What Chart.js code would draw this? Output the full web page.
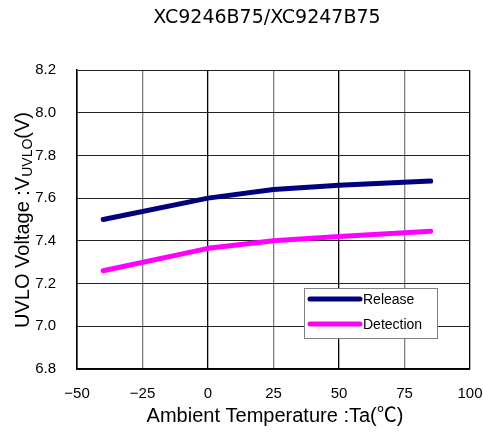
<!DOCTYPE html>
<html>
<head>
<meta charset="utf-8">
<script src="https://cdn.jsdelivr.net/npm/chart.js@4"></script>
<style>
  html, body { margin: 0; padding: 0; background: #fff; }
  #wrap { width: 483px; height: 432px; }
</style>
</head>
<body>
<div id="wrap"><canvas id="uvlo"></canvas></div>
<script>
// ----- data -----
const chartTitle = 'XC9246B75/XC9247B75';
const temps = [-40, 0, 25, 50, 85];
const releaseV = [7.50, 7.60, 7.64, 7.66, 7.68];
const detectionV = [7.26, 7.365, 7.40, 7.42, 7.445];
const seriesNames = ['Release', 'Detection'];
const seriesColors = ['#000080', '#ff00ff'];
const xTicks = [-50, -25, 0, 25, 50, 75, 100];
const yTicks = [6.8, 7.0, 7.2, 7.4, 7.6, 7.8, 8.0, 8.2];

const sansFont = "'Liberation Sans', Arial, 'Noto Sans CJK JP', sans-serif";
const wideFont = "'DejaVu Sans', 'Noto Sans CJK JP', sans-serif";

function toPoints(ys) {
    return temps.map((t, i) => ({ x: t, y: ys[i] }));
}

// draws the title, axis titles (with subscript) and the boxed legend
const decorations = {
    id: 'decorations',
    afterDraw(chart) {
        const ctx = chart.ctx;
        ctx.save();
        ctx.fillStyle = '#000';

        // title
        ctx.font = "19px " + wideFont;
        ctx.textAlign = 'center';
        ctx.textBaseline = 'middle';
        ctx.fillText(chartTitle, 267, 18);

        // x axis title
        ctx.font = "20px " + sansFont;
        ctx.fillText('Ambient Temperature :Ta(\u2103)', 275, 416);

        // y axis title, rotated, with subscript
        ctx.translate(23, 220);
        ctx.rotate(-Math.PI / 2);
        ctx.textAlign = 'left';
        ctx.textBaseline = 'middle';
        const big = "20px " + sansFont;
        const small = "14px " + sansFont;
        const parts = [
            { t: 'UVLO Voltage :V', f: big, dy: 0 },
            { t: 'UVLO', f: small, dy: 5 },
            { t: '(V)', f: big, dy: 0 }
        ];
        let total = 0;
        parts.forEach(p => { ctx.font = p.f; p.w = ctx.measureText(p.t).width; total += p.w; });
        let x = -total / 2;
        parts.forEach(p => {
            ctx.font = p.f;
            ctx.fillText(p.t, x, p.dy);
            x += p.w;
        });
        ctx.restore();

        // legend box
        ctx.save();
        const bx = 304, by = 288, bw = 133, bh = 50;
        ctx.fillStyle = '#fff';
        ctx.fillRect(bx, by, bw, bh);
        ctx.strokeStyle = '#808080';
        ctx.lineWidth = 1;
        ctx.strokeRect(bx + 0.5, by + 0.5, bw, bh);
        ctx.font = "14px " + sansFont;
        ctx.textBaseline = 'middle';
        ctx.textAlign = 'left';
        chart.data.datasets.forEach((ds, i) => {
            const ly = by + 11 + i * 25;
            ctx.strokeStyle = ds.borderColor;
            ctx.lineWidth = 5;
            ctx.lineCap = 'round';
            ctx.beginPath();
            ctx.moveTo(bx + 6, ly);
            ctx.lineTo(bx + 56, ly);
            ctx.stroke();
            ctx.fillStyle = '#000';
            ctx.fillText(ds.label, bx + 59, ly + 1);
        });
        ctx.restore();
    }
};

function initializeChart() {
    const el = document.getElementById('uvlo');
    new Chart(el, {
        type: 'line',
        data: {
            datasets: [
                {
                    label: seriesNames[0],
                    data: toPoints(releaseV),
                    borderColor: seriesColors[0],
                    borderWidth: 5,
                    borderCapStyle: 'round',
                    borderJoinStyle: 'round',
                    pointRadius: 0,
                    tension: 0,
                    fill: false
                },
                {
                    label: seriesNames[1],
                    data: toPoints(detectionV),
                    borderColor: seriesColors[1],
                    borderWidth: 5,
                    borderCapStyle: 'round',
                    borderJoinStyle: 'round',
                    pointRadius: 0,
                    tension: 0,
                    fill: false
                }
            ]
        },
        options: {
            responsive: true,
            maintainAspectRatio: false,
            animation: false,
            layout: { padding: { top: 70, right: 13, left: 0, bottom: 0 } },
            plugins: {
                legend: { display: false },
                title: { display: false },
                tooltip: { enabled: false }
            },
            scales: {
                x: {
                    type: 'linear',
                    min: -50,
                    max: 100,
                    afterBuildTicks: s => { s.ticks = xTicks.map(v => ({ value: v })); },
                    afterFit: s => { s.height = 63; s.paddingLeft = 0; s.paddingRight = 0; },
                    border: { color: '#000', width: 1.5 },
                    grid: {
                        drawTicks: false,
                        color: c => (c.tick && c.tick.value % 50 === 0) ? '#000' : '#808080',
                        lineWidth: 1.3
                    },
                    ticks: {
                        padding: 16,
                        color: '#000',
                        maxRotation: 0,
                        font: { size: 15, family: sansFont },
                        callback: v => v < 0 ? '\u2212' + Math.abs(v) : String(v)
                    }
                },
                y: {
                    min: 6.8,
                    max: 8.2,
                    afterBuildTicks: s => { s.ticks = yTicks.map(v => ({ value: v })); },
                    afterFit: s => { s.width = 77; s.paddingTop = 0; s.paddingBottom = 0; },
                    border: { color: '#000', width: 1.5 },
                    grid: {
                        drawTicks: false,
                        color: '#222',
                        lineWidth: 1
                    },
                    ticks: {
                        padding: 21,
                        color: '#000',
                        font: { size: 15, family: sansFont },
                        callback: v => v.toFixed(1)
                    }
                }
            }
        },
        plugins: [decorations]
    });
}

document.addEventListener('DOMContentLoaded', initializeChart);
</script>
</body>
</html>
